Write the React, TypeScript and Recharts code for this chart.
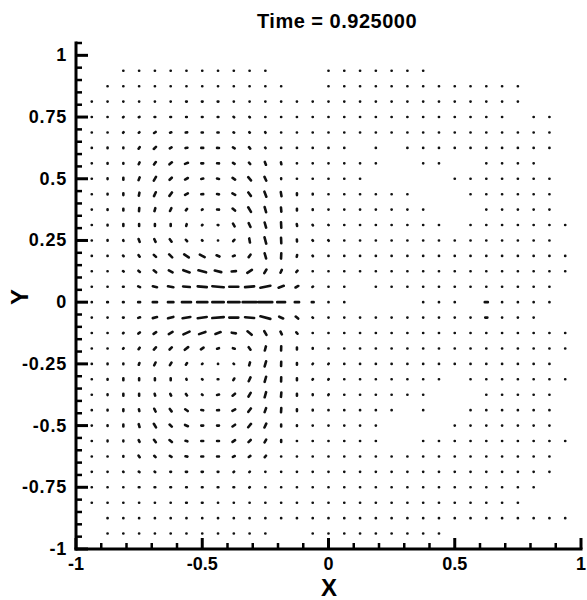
/** Vector field snapshot at Time = 0.925 (dipole vortex pair) drawn as short segments */
import { ComposedChart, Line, XAxis, YAxis } from 'recharts'

type Vec = [number, number] | null

const _ = null
const o: Vec = [0, 0]
const dots = (n: number): Vec[] => Array(n).fill(o)

const TITLE = 'Time = 0.925000'

// grid columns / rows (every 1/16)
const COL_X = [
  -0.9375, -0.875, -0.8125, -0.75, -0.6875, -0.625, -0.5625, -0.5, -0.4375, -0.375, -0.3125,
  -0.25, -0.1875, -0.125, -0.0625, 0, 0.0625, 0.125, 0.1875, 0.25, 0.3125, 0.375, 0.4375, 0.5,
  0.5625, 0.625, 0.6875, 0.75, 0.8125, 0.875, 0.9375,
]
const ROW_Y = [
  0.9375, 0.875, 0.8125, 0.75, 0.6875, 0.625, 0.5625, 0.5, 0.4375, 0.375, 0.3125, 0.25, 0.1875,
  0.125, 0.0625, 0, -0.0625, -0.125, -0.1875, -0.25, -0.3125, -0.375, -0.4375, -0.5, -0.5625,
  -0.625, -0.6875, -0.75, -0.8125, -0.875, -0.9375,
]

// [u, v] per grid node; null = no vector drawn
const FIELD: Vec[][] = [
  [_, _, ...dots(10), _, _, _, o, ...dots(6), _, _, _, _, _, _, _, _, _],
  [_, ...dots(12), _, _, o, ...dots(12), _, _, _],
  [...dots(6), [.6, 0], [.6, 0], [.6, 0], ...dots(7), ...dots(12), _, _, _],
  [o, o, [.4, .4], [.6, .2], [.6, 0], [.6, 0], [.6, 0], [.6, 0], [.6, 0], [.5, -.4], [.4, -.4], ...dots(5),
    ...dots(11), _, o, o, _],
  [o, o, [.4, .5], [.5, .4], [1.3, .9], [1, .3], [1.2, .1], [1, 0], [1, 0], [.5, -.3], [.4, -.4], [.3, -.5], ...dots(4),
    ...dots(14), _],
  [o, [0, .6], [0, .6], [.9, 1.3], [1.8, 1.8], [1.4, .8], [1.6, .3], [1.6, 0], [1.6, -.1], [1.4, -.8], [1, -1.2], [.3, -.5], ...dots(4),
    o, _, o, _, ...dots(10), _],
  [o, [0, .6], [0, .6], [.7, 1.5], [1.5, 2.1], [2, 1.7], [2.4, .9], [1.6, 0], [1.6, -.1], [1.3, -.9], [1, -1.2], [.9, -2.4], [.3, -1.6], o, o, o,
    o, o, o, _, _, o, o, _, _, o, o, o, o, _, _],
  [o, [0, .6], [0, 1.6], [.9, 2.4], [1.8, 3.1], [1.8, 1.8], [2.3, 1.3], [1.6, .3], [1.6, -.3], [2.1, -1.5], [2.3, -2.8], [1.5, -3.3], [0, .6], o, o, o,
    o, o, _, _, _, _, _, ...dots(7), _],
  [o, [0, .6], [0, 1.6], [.5, 2.6], [1.5, 3.3], [2.1, 2.9], [2.3, 1.3], [1.6, .1], [1.6, -.3], [2.3, -1.3], [2.1, -2.9], [1.6, -4.3], [.6, -3.5], [0, 1.6], [0, .6], o,
    ...dots(5), _, _, _, ...dots(6), _],
  [o, [0, .6], [0, 1.6], [.2, 2.6], [.7, 2.5], [1.1, 2.4], [1, 1.2], [.5, .4], [1.6, -.1], [2, -1.7], [2.3, -4], [1.2, -4.4], [.3, -3.6], [0, 1.6], [0, .6], o,
    ...dots(6), _, _, _, ...dots(5), _],
  [o, [0, .6], [0, 1.6], [0, 1.6], [0, 1.6], [0, 1.6], [.4, 1.5], [.4, .4], [.6, -.1], [1.3, -2.3], [1.5, -3.3], [1.2, -4.4], [.2, -4.6], [.3, -1.6], [.3, -.5], [.2, -.2],
    ...dots(7), _, ...dots(7)],
  [o, [0, .6], [.2, -.6], [.9, -2.4], [1.1, -2.4], [1.5, -2.1], [1, -1.2], [.4, -.4], o, [1, 1.2], [.6, -3.5], [1.4, -5.4], [.2, -4.6], [.1, -1.6], [.4, -.5], [.4, -.5],
    ...dots(14), _],
  [o, o, [.4, -.5], [.9, -1.3], [1.8, -1.8], [2.5, -2.5], [3.8, -2.6], [4, -2.3], [2.4, -1.1], [1.5, .5], [1.5, 2.1], [1.2, -4.4], [.2, 4.6], [.3, 1.6], [.3, -.4], o,
    ...dots(15)],
  [o, o, [.5, -.4], [1.2, -1], [2, -1.7], [3.1, -1.8], [5.3, -1.9], [6.4, -1.7], [5.4, -1.4], [3.6, .3], [3.8, 2.6], [1.8, 3.1], [1.1, 2.4], [1, 1.2], o, o,
    ...dots(15)],
  [o, o, [.6, 0], [1.5, -.7], [3.5, -.9], [4.5, -.8], [5.6, -.5], [7.6, -.7], [9.6, -.8], [7.6, 0], [7.6, .7], [8.4, 1.8], [4.3, 1.6], [2.3, 1.3], [.5, .4], o,
    o, _, ...dots(7), o, ...dots(4), _],
  [o, [.6, 0], [.6, 0], [1.6, 0], [3.6, 0], [4.6, 0], [7.6, 0], [8.6, 0], [9.6, 0], [9.6, 0], [11.6, 0], [11.6, 0], [6.6, 0], [3.6, 0], [1.6, 0], o,
    o, _, _, _, _, o, o, o, _, [2.6, 0], ...dots(4), _],
  [o, o, [.6, 0], [1.5, .5], [3.5, .9], [4.4, 1.2], [6.5, 1.1], [7.5, 1.1], [9.6, .8], [7.6, 0], [7.6, -.7], [8.3, -2.2], [3.3, -1.5], [2, -1.7], [.4, -.4], o,
    ...dots(9), [1.8, 0], o, o, o, _, _],
  [o, o, [.4, .4], [1.2, 1], [2.1, 1.5], [3.1, 1.8], [5.1, 2.4], [5.3, 1.9], [4.3, 1.6], [3.5, -.6], [3.5, -3], [1.8, -3.1], [1.1, -2.4], [1, -1.2], o, o,
    ...dots(15)],
  [o, o, [.4, .5], [.9, 1.3], [1.7, 2], [1.8, 1.8], [2.8, 2.3], [2.1, 1.5], [1.5, .5], [1.5, -.5], [1.5, -2.1], [.9, 3.5], [.1, 3.6], [0, 1.6], [0, .6], o,
    ...dots(15)],
  [o, [0, .6], [0, .6], [.5, 1.5], [1.1, 2.4], [1.3, 2.3], [.9, 1.3], [.4, .4], o, [.4, -.4], [.7, 2.5], [1.2, 4.4], [.1, 3.6], [0, 1.6], [.3, .5], [.3, .5],
    ...dots(14), _],
  [o, [0, .6], [0, 1.6], [0, 1.6], [0, 1.6], [0, 1.6], [.2, -.6], [.4, -.4], [.6, 0], [.8, 1.4], [1.5, 3.3], [1.2, 4.4], [.1, 3.6], [0, 1.6], [.3, .5], [.3, .5],
    ...dots(7), _, ...dots(7)],
  [o, [0, .6], [0, 1.6], [0, 1.6], [.4, -1.5], [.7, -1.5], [.9, -1.3], [.5, -.4], [1.6, .3], [2, 1.7], [1.8, 3.1], [1.2, 4.4], [.3, 3.6], [0, 1.6], [0, .6], [.3, .5],
    ...dots(6), _, _, _, ...dots(5), _],
  [o, [0, .6], [0, 1.6], [.3, -1.6], [1.1, -2.4], [1.5, -2.1], [2.1, -1.5], [1.6, -.3], [1.6, .1], [2.3, 1.3], [2.1, 2.9], [1.2, 3.4], [.2, 3.6], [0, 1.6], [0, .6], o,
    o, o, o, o, _, o, _, _, ...dots(6), _],
  [o, [0, .6], [0, 1.6], [.7, -2.5], [1.8, -3.1], [1.8, -1.8], [2.4, -1.1], [1.6, 0], [1.6, 0], [2.1, 1.5], [2.3, 2.8], [1.5, 3.3], [0, 1.6], [0, .6], o, o,
    o, o, o, _, _, _, _, ...dots(7), _],
  [o, [0, .6], [0, .6], [.7, -1.5], [1.5, -2.1], [2, -1.7], [1.5, -.5], [1.6, 0], [1.6, 0], [2.1, 1.5], [1.8, 1.8], [1.3, 2.3], [0, 1.6], o, o, o,
    o, o, o, _, _, ...dots(10)],
  [o, o, [0, .6], [.9, -1.3], [1.1, -1.1], [1.4, -.8], [1.6, -.3], [1.6, 0], [1.6, 0], [1.5, .7], [1.3, .9], [1, 1.2], o, o, o, o,
    ...dots(14), _],
  [o, o, [.2, -.2], [.5, -.4], [.5, -.3], [.6, 0], [1, 0], [1, 0], [.6, 0], [.5, .3], [.4, .4], ...dots(5),
    ...dots(14), _],
  [o, o, o, [.6, 0], [.6, 0], [.6, 0], [.6, 0], [.6, 0], [.6, 0], [.6, 0], [.4, .4], ...dots(5),
    ...dots(13), _, _],
  [...dots(6), [.6, 0], [.6, 0], ...dots(8), ...dots(12), _, _, _],
  [_, ...dots(15), ...dots(15)],
  [_, ...dots(11), _, _, o, o, ...dots(7), _, _, _, _, _, _, _, _],
]

const X_MAJOR = [-1, -0.5, 0, 0.5, 1]
const Y_MAJOR = [-1, -0.75, -0.5, -0.25, 0, 0.25, 0.5, 0.75, 1]
const X_TICKS = Array.from({ length: 21 }, (_, i) => Math.round((-1 + i * 0.1) * 10) / 10)
const Y_TICKS = Array.from({ length: 42 }, (_, i) => Math.round((-1 + i * 0.05) * 100) / 100)

const VEC_SCALE = 1 / 212 // data units per velocity unit
const PLOT_LEFT = 76
const PLOT_BOTTOM = 549
const Y_AXIS_W = 60
const X_AXIS_H = 40
const FONT = '"Liberation Sans", Arial, sans-serif'

// each vector -> tail, tip, then a null point so the line breaks
const segments: { x: number; y: number | null }[] = []
FIELD.forEach((row, r) => {
  row.forEach((vec, c) => {
    if (!vec) return
    const [u, v] = vec
    const x = COL_X[c]
    const y = ROW_Y[r]
    const dx = u === 0 && v === 0 ? 0.0003 : (u * VEC_SCALE) / 2
    const dy = (v * VEC_SCALE) / 2
    segments.push({ x: x - dx, y: y - dy }, { x: x + dx, y: y + dy }, { x: x + dx, y: null })
  })
})

const fmt = (v: number) => String(Object.is(v, -0) ? 0 : v)

// eslint-disable-next-line @typescript-eslint/no-explicit-any
function XTick({ x, payload }: any) {
  const v = payload.value as number
  const major = X_MAJOR.includes(v)
  return (
    <g>
      <line x1={x} x2={x} y1={PLOT_BOTTOM} y2={PLOT_BOTTOM - (major ? 11 : 6)} stroke="#000" strokeWidth={major ? 3 : 2.5} />
      {major && (
        <text x={x} y={PLOT_BOTTOM + 21} textAnchor="middle" fontFamily={FONT} fontWeight={700} fontSize={18} fill="#000">
          {fmt(v)}
        </text>
      )}
    </g>
  )
}

// eslint-disable-next-line @typescript-eslint/no-explicit-any
function YTick({ y, payload }: any) {
  const v = payload.value as number
  const major = Y_MAJOR.includes(v)
  return (
    <g>
      <line x1={PLOT_LEFT} x2={PLOT_LEFT + (major ? 12 : 6)} y1={y} y2={y} stroke="#000" strokeWidth={major ? 3 : 2.5} />
      {major && (
        <text x={67} y={y + 6} textAnchor="end" fontFamily={FONT} fontWeight={700} fontSize={18} letterSpacing={0.8} fill="#000">
          {fmt(v)}
        </text>
      )}
    </g>
  )
}

export default function App() {
  return (
    <div style={{ position: 'absolute', left: 0, top: 0, width: 587, height: 600, background: '#fff' }}>
      <ComposedChart
        width={587}
        height={600}
        data={segments}
        margin={{ top: 43, right: 6, bottom: 600 - PLOT_BOTTOM - X_AXIS_H, left: PLOT_LEFT - Y_AXIS_W }}
      >
        <XAxis
          type="number"
          dataKey="x"
          domain={[-1, 1]}
          ticks={X_TICKS}
          interval={0}
          tick={(p: any) => <XTick {...p} />}
          tickLine={false}
          axisLine={{ stroke: '#000', strokeWidth: 3, strokeLinecap: 'square' }}
          height={X_AXIS_H}
          allowDataOverflow
        />
        <YAxis
          type="number"
          domain={[-1, 1.05]}
          ticks={Y_TICKS}
          interval={0}
          tick={(p: any) => <YTick {...p} />}
          tickLine={false}
          axisLine={{ stroke: '#000', strokeWidth: 3, strokeLinecap: 'square' }}
          width={Y_AXIS_W}
          allowDataOverflow
        />
        <Line
          dataKey="y"
          stroke="#111"
          strokeWidth={2.6}
          strokeLinecap="round"
          dot={false}
          activeDot={false}
          connectNulls={false}
          isAnimationActive={false}
        />
      </ComposedChart>
      <svg width={587} height={600} style={{ position: 'absolute', left: 0, top: 0, pointerEvents: 'none' }}>
        <text x={337} y={28} textAnchor="middle" fontFamily={FONT} fontWeight={700} fontSize={20} letterSpacing={0.5}>
          {TITLE}
        </text>
        <text x={329} y={596} textAnchor="middle" fontFamily={FONT} fontWeight={700} fontSize={24}>
          X
        </text>
        <text x={28} y={297} textAnchor="middle" fontFamily={FONT} fontWeight={700} fontSize={24} transform="rotate(-90, 28, 297)">
          Y
        </text>
      </svg>
    </div>
  )
}
